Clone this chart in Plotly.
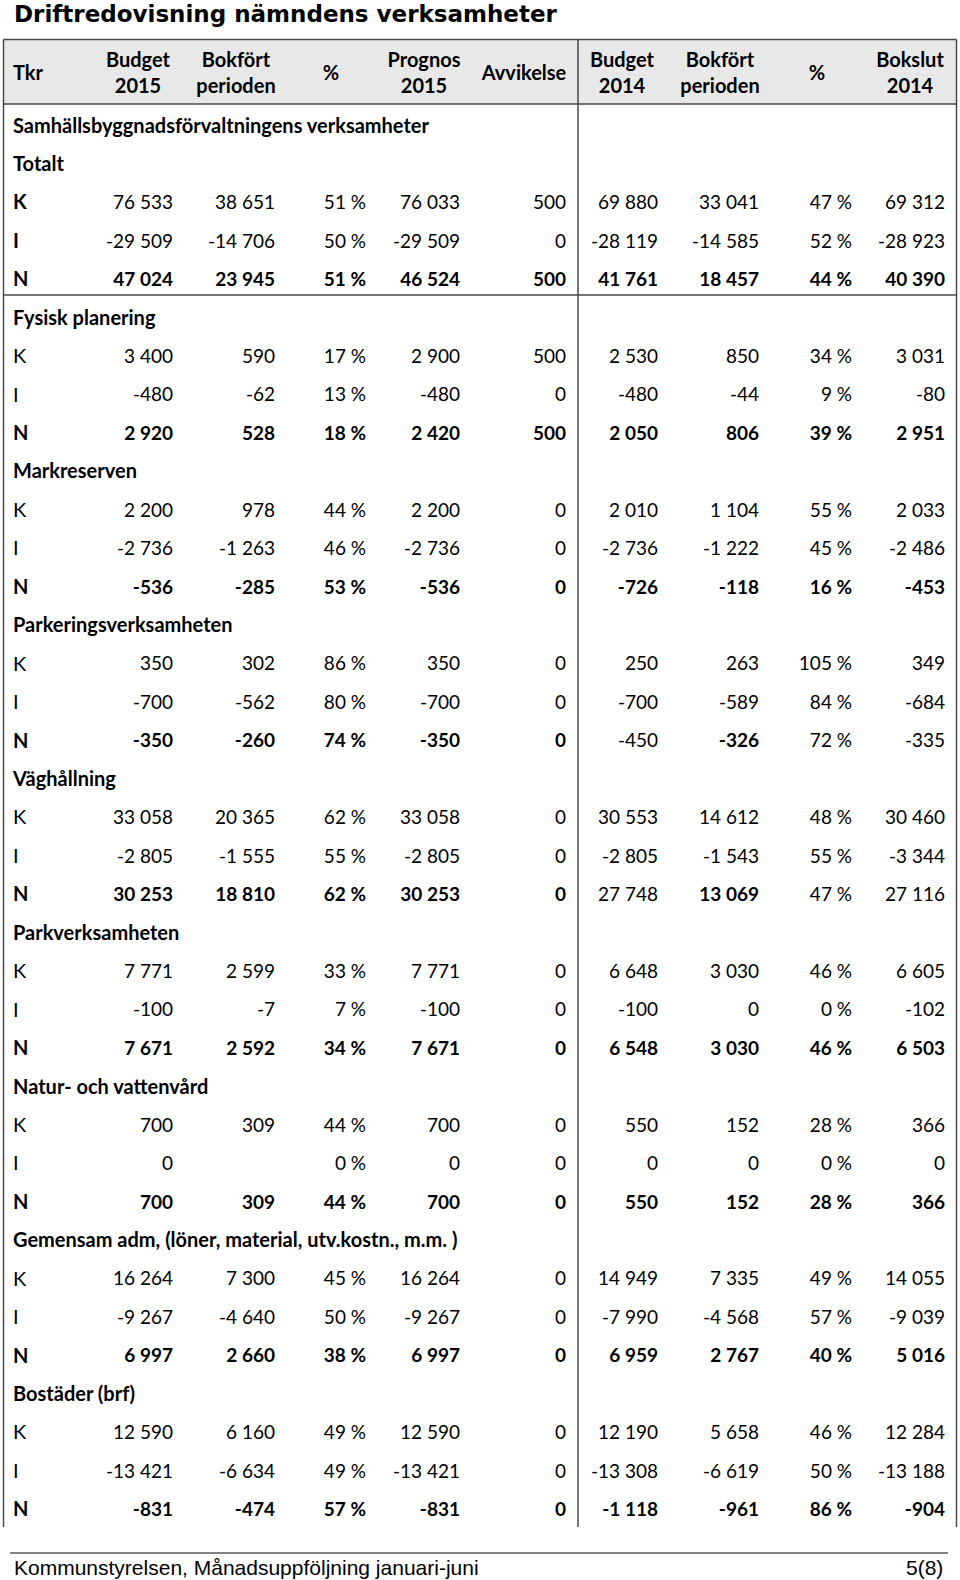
import plotly.graph_objects as go

# --- data -------------------------------------------------------------------
title = "Driftredovisning nämndens verksamheter"
footer_left = "Kommunstyrelsen, Månadsuppföljning januari-juni"
footer_right = "5(8)"

headers = ["Budget<br>2015", "Bokfört<br>perioden", "%", "Prognos<br>2015", "Avvikelse",
           "Budget<br>2014", "Bokfört<br>perioden", "%", "Bokslut<br>2014"]
pct_cols = [2, 7]

top_heading = "Samhällsbyggnadsförvaltningens verksamheter"
sections = ["Totalt", "Fysisk planering", "Markreserven", "Parkeringsverksamheten",
            "Väghållning", "Parkverksamheten", "Natur- och vattenvård",
            "Gemensam adm, (löner, material, utv.kostn., m.m. )", "Bostäder (brf)"]
row_kinds = ["K", "I", "N"]

budget_2015 = [76533, -29509, 47024, 3400, -480, 2920, 2200, -2736, -536, 350, -700, -350,
               33058, -2805, 30253, 7771, -100, 7671, 700, 0, 700, 16264, -9267, 6997,
               12590, -13421, -831]
bokfort_2015 = [38651, -14706, 23945, 590, -62, 528, 978, -1263, -285, 302, -562, -260,
                20365, -1555, 18810, 2599, -7, 2592, 309, None, 309, 7300, -4640, 2660,
                6160, -6634, -474]
pct_2015 = [51, 50, 51, 17, 13, 18, 44, 46, 53, 86, 80, 74, 62, 55, 62, 33, 7, 34, 44, 0, 44,
            45, 50, 38, 49, 49, 57]
prognos_2015 = [76033, -29509, 46524, 2900, -480, 2420, 2200, -2736, -536, 350, -700, -350,
                33058, -2805, 30253, 7771, -100, 7671, 700, 0, 700, 16264, -9267, 6997,
                12590, -13421, -831]
avvikelse = [500, 0, 500, 500, 0, 500, 0, 0, 0, 0, 0, 0, 0, 0, 0, 0, 0, 0, 0, 0, 0, 0, 0, 0,
             0, 0, 0]
budget_2014 = [69880, -28119, 41761, 2530, -480, 2050, 2010, -2736, -726, 250, -700, -450,
               30553, -2805, 27748, 6648, -100, 6548, 550, 0, 550, 14949, -7990, 6959,
               12190, -13308, -1118]
bokfort_2014 = [33041, -14585, 18457, 850, -44, 806, 1104, -1222, -118, 263, -589, -326,
                14612, -1543, 13069, 3030, 0, 3030, 152, 0, 152, 7335, -4568, 2767,
                5658, -6619, -961]
pct_2014 = [47, 52, 44, 34, 9, 39, 55, 45, 16, 105, 84, 72, 48, 55, 47, 46, 0, 46, 28, 0, 28,
            49, 57, 40, 46, 50, 86]
bokslut_2014 = [69312, -28923, 40390, 3031, -80, 2951, 2033, -2486, -453, 349, -684, -335,
                30460, -3344, 27116, 6605, -102, 6503, 366, 0, 366, 14055, -9039, 5016,
                12284, -13188, -904]

columns = [budget_2015, bokfort_2015, pct_2015, prognos_2015, avvikelse,
           budget_2014, bokfort_2014, pct_2014, bokslut_2014]

# N-rows whose 2014 figures are printed regular except "Bokfört perioden"
regular_2014_n_rows = [11, 14]

# --- layout constants ---------------------------------------------------------
W, H = 960, 1580
FONT = "Lato"
FS_LABEL = 20
FS_NUM = 19
ROW_Y0, ROW_PITCH = 127.5, 38.44
HDR_Y = 74.5
LABEL_X = 13
COL_RIGHT = [173, 275, 366, 460, 566, 658, 759, 852, 945]
COL_CENTER = [138, 236, 331, 424, 524, 622, 720, 817, 910]
TBL_L, TBL_R, TBL_T, HDR_B, TBL_B, DIV_X = 3.5, 956.5, 39.5, 104, 1527, 578
LINE = "#4a4a4a"


def fmt(v, col):
    if v is None:
        return ""
    if col in pct_cols:
        return f"{v} %"
    s = f"{abs(v):,}".replace(",", " ")
    return ("-" if v < 0 else "") + s


def row_y(i):
    return ROW_Y0 + i * ROW_PITCH


fig = go.Figure()

# header texts
fig.add_trace(go.Scatter(
    x=COL_CENTER, y=[HDR_Y] * len(headers), mode="text",
    text=[f"<b>{h}</b>" for h in headers], textposition="middle center",
    textfont=dict(family=FONT, size=FS_LABEL, color="#000"), hoverinfo="skip",
))
fig.add_trace(go.Scatter(
    x=[LABEL_X], y=[HDR_Y], mode="text", text=["<b>Tkr</b>"], textposition="middle right",
    textfont=dict(family=FONT, size=FS_LABEL, color="#000"), hoverinfo="skip",
))

# left column labels and numbers
lab_x, lab_y, lab_t = [LABEL_X], [row_y(0)], [f"<b>{top_heading}</b>"]
num_x, num_y, num_t = [], [], []
for s, name in enumerate(sections):
    base = 1 + 4 * s
    lab_x.append(LABEL_X)
    lab_y.append(row_y(base))
    lab_t.append(f"<b>{name}</b>")
    for k, kind in enumerate(row_kinds):
        r = 3 * s + k
        y = row_y(base + 1 + k)
        bold_label = kind == "N" or s == 0
        lab_x.append(LABEL_X)
        lab_y.append(y)
        lab_t.append(f"<b>{kind}</b>" if bold_label else kind)
        for c, col in enumerate(columns):
            t = fmt(col[r], c)
            bold = kind == "N"
            if r in regular_2014_n_rows and c >= 5 and c != 6:
                bold = False
            num_x.append(COL_RIGHT[c])
            num_y.append(y)
            num_t.append(f"<b>{t}</b>" if (bold and t) else t)

fig.add_trace(go.Scatter(
    x=lab_x, y=lab_y, mode="text", text=lab_t, textposition="middle right",
    textfont=dict(family=FONT, size=FS_LABEL, color="#000"), hoverinfo="skip",
))
fig.add_trace(go.Scatter(
    x=num_x, y=num_y, mode="text", text=num_t, textposition="middle left",
    textfont=dict(family=FONT, size=FS_NUM, color="#000"), hoverinfo="skip",
))

shapes = [
    dict(type="rect", x0=TBL_L, x1=TBL_R, y0=TBL_T, y1=HDR_B, fillcolor="#e8e8e8",
         line=dict(width=0), layer="below"),
    dict(type="line", x0=TBL_L, x1=TBL_R, y0=TBL_T, y1=TBL_T, line=dict(color=LINE, width=1.5)),
    dict(type="line", x0=TBL_L, x1=TBL_R, y0=HDR_B, y1=HDR_B, line=dict(color=LINE, width=1.5)),
    dict(type="line", x0=TBL_L, x1=TBL_R, y0=295, y1=295, line=dict(color=LINE, width=1.5)),
    dict(type="line", x0=TBL_L, x1=TBL_L, y0=TBL_T, y1=TBL_B, line=dict(color=LINE, width=1.5)),
    dict(type="line", x0=TBL_R, x1=TBL_R, y0=TBL_T, y1=TBL_B, line=dict(color=LINE, width=1.5)),
    dict(type="line", x0=DIV_X, x1=DIV_X, y0=TBL_T, y1=TBL_B, line=dict(color=LINE, width=1.5)),
    dict(type="line", x0=10, x1=948, y0=1553, y1=1553, line=dict(color="#000", width=1)),
]

annotations = [
    dict(x=12, y=13.5, xref="x", yref="y", text=f"<b>{title}</b>", showarrow=False,
         xanchor="left", yanchor="middle",
         font=dict(family="DejaVu Sans", size=23, color="#000")),
    dict(x=12, y=1567, xref="x", yref="y", text=footer_left, showarrow=False,
         xanchor="left", yanchor="middle",
         font=dict(family="Liberation Sans", size=21, color="#000")),
    dict(x=945, y=1567, xref="x", yref="y", text=footer_right, showarrow=False,
         xanchor="right", yanchor="middle",
         font=dict(family="Liberation Sans", size=21, color="#000")),
]

fig.update_layout(
    width=W, height=H,
    margin=dict(l=0, r=0, t=0, b=0),
    paper_bgcolor="white", plot_bgcolor="white",
    showlegend=False,
    hovermode=False,
    xaxis=dict(range=[0, W], visible=False, fixedrange=True),
    yaxis=dict(range=[H, 0], visible=False, fixedrange=True),
    shapes=shapes,
    annotations=annotations,
)

# drop the default 8px page margin so the figure sits at the window's corner
fig.write_html(
    "out.html",
    config={"displayModeBar": False, "staticPlot": True},
    post_script="document.body.style.margin='0';document.body.style.overflow='hidden';",
)
